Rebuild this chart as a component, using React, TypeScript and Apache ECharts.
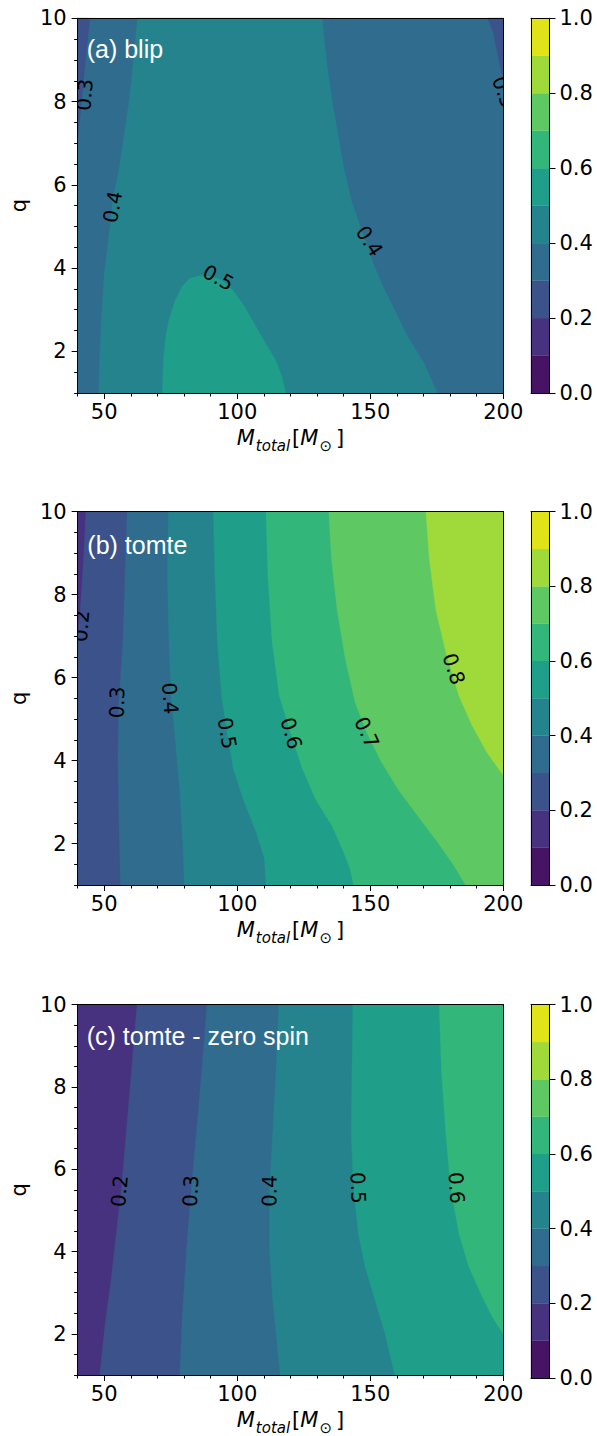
import React, { useEffect, useRef } from 'react';
import * as echarts from 'echarts';

// ---------- axis ranges & ticks ----------
const X_MIN = 40, X_MAX = 200, Q_MIN = 1, Q_MAX = 10;
const xMajorTicks = [50, 100, 150, 200];
const xMinorTicks = [40, 60, 70, 80, 90, 110, 120, 130, 140, 160, 170, 180, 190];
const qMajorTicks = [2, 4, 6, 8, 10];
const qMinorTicks = [1, 1.5, 2.5, 3, 3.5, 4.5, 5, 5.5, 6.5, 7, 7.5, 8.5, 9, 9.5];
const cbarTicks = [0, 0.2, 0.4, 0.6, 0.8, 1.0];
const levels = [0, 0.1, 0.2, 0.3, 0.4, 0.5, 0.6, 0.7, 0.8, 0.9, 1.0];
const bandColors = ['#471365', '#46327e', '#3b528b', '#2f6c8e', '#25838e', '#1f9e89', '#32b67a', '#5ec962', '#9fda3a', '#dfe318'];
const panelTitles = ['(a) blip', '(b) tomte', '(c) tomte - zero spin'];

// ---------- panel (a) blip : contour lines [M_total, q] ----------
const blipLine03Left = [[44.6, 10], [43.6, 9.4], [42.7, 8.84], [41.5, 8.0], [40.2, 7.24], [40, 7.1]];
const blipLine03Right = [[194.1, 10], [196.3, 9.65], [198.8, 8.84], [200, 8.56]];
const blipLine04Left = [[62.5, 10], [61.0, 9.0], [59.4, 8.04], [57.5, 7.2], [55.7, 6.43], [53.2, 5.63], [52.4, 5.15], [51.2, 4.5], [50.1, 3.95], [48.9, 2.75], [48.3, 1.9], [47.9, 1]];
const blipLine04Right = [[131.9, 10], [133.5, 9.0], [135.6, 8.04], [140.0, 6.43], [143.0, 5.6], [145.5, 5.15], [147.0, 4.85], [149.2, 4.5], [151.1, 4.11], [154.5, 3.6], [157.9, 3.16], [164.1, 2.35], [170.3, 1.71], [175.2, 1]];
const blipLine05 = [[71.8, 1], [72.2, 1.8], [73.2, 2.4], [74.3, 2.75], [76.5, 3.2], [79.2, 3.55], [82, 3.75], [86.1, 3.82], [90, 3.8], [94, 3.72], [98.4, 3.47], [102.5, 3.1], [107.1, 2.59], [111, 2.15], [114.5, 1.79], [117, 1.35], [118.3, 1]];
const blipLabels = [
  { text: '0.3', x: 42.6, q: 8.16, rot: 85 },
  { text: '0.4', x: 53.2, q: 5.47, rot: 80 },
  { text: '0.5', x: 92.9, q: 3.77, rot: -29 },
  { text: '0.4', x: 149.7, q: 4.65, rot: -57 },
  { text: '0.3', x: 200.2, q: 8.23, rot: -70 },
];

// ---------- panel (b) tomte ----------
const tomteLine02 = [[43.0, 10], [42.1, 8.86], [40.9, 7.65], [40, 7.0]];
const tomteLine03 = [[58.6, 10], [57.8, 8.46], [57.0, 6.85], [55.5, 5.42], [55.1, 4.04], [55.4, 2.83], [55.7, 2.03], [56.1, 1]];
const tomteLine04 = [[74.1, 10], [73.7, 8.46], [74.3, 6.85], [75.2, 5.52], [76.8, 4.44], [78.4, 3.23], [79.5, 2.03], [80.1, 1]];
const tomteLine05 = [[91.0, 10], [91.6, 8.46], [92.5, 6.85], [94.1, 5.56], [96.2, 4.66], [98.5, 3.8], [102.2, 3.07], [107.1, 2.27], [110.2, 1.63], [110.8, 1]];
const tomteLine06 = [[110.8, 10], [111.5, 8.46], [113.1, 6.85], [115.8, 5.56], [120.1, 4.66], [124.5, 3.8], [129.4, 3.07], [135.6, 2.43], [140.0, 1.79], [142.4, 1.39], [143.7, 1]];
const tomteLine07 = [[134.4, 10], [135.4, 8.86], [137.5, 7.65], [140.6, 6.45], [144.3, 5.4], [148.6, 4.68], [154.2, 3.96], [160.4, 3.31], [167.8, 2.67], [175.3, 2.03], [181.4, 1.47], [185.8, 1]];
const tomteLine08 = [[170.9, 10], [172.2, 8.86], [174.6, 7.65], [178.4, 6.61], [183.3, 5.56], [188.3, 4.84], [193.8, 4.2], [200, 3.64]];
const tomteLabels = [
  { text: '0.2', x: 41.3, q: 7.24, rot: 85 },
  { text: '0.3', x: 54.8, q: 5.4, rot: 88 },
  { text: '0.4', x: 74.8, q: 5.5, rot: -86 },
  { text: '0.5', x: 96.2, q: 4.66, rot: -80 },
  { text: '0.6', x: 120.3, q: 4.66, rot: -74 },
  { text: '0.7', x: 148.7, q: 4.68, rot: -65 },
  { text: '0.8', x: 181.4, q: 6.21, rot: -72 },
];

// ---------- panel (c) tomte - zero spin ----------
const zeroLine02 = [[62.3, 10], [60.3, 8.46], [58.2, 6.85], [56.3, 5.44], [54.5, 4.44], [52.4, 3.23], [50.2, 2.19], [48.3, 1]];
const zeroLine03 = [[88.6, 10], [86.7, 8.46], [84.6, 6.85], [82.6, 5.44], [80.9, 4.04], [79.3, 2.43], [78.4, 1]];
const zeroLine04 = [[115.6, 10], [114.6, 8.46], [113.3, 6.85], [112.1, 5.44], [112.1, 4.04], [113.3, 2.83], [114.8, 1.87], [116.1, 1]];
const zeroLine05 = [[143.4, 10], [143.1, 8.46], [142.8, 6.85], [143.7, 5.56], [145.5, 4.44], [148.0, 3.64], [151.7, 2.83], [155.4, 2.03], [159.2, 1]];
const zeroLine06 = [[175.9, 10], [176.7, 8.46], [178.4, 6.85], [180.2, 5.56], [183.3, 4.44], [187.0, 3.64], [191.4, 2.99], [195.7, 2.43], [200, 1.99]];
const zeroLabels = [
  { text: '0.2', x: 55.7, q: 5.47, rot: 85 },
  { text: '0.3', x: 82.5, q: 5.47, rot: 87 },
  { text: '0.4', x: 112.1, q: 5.47, rot: 89 },
  { text: '0.5', x: 145.4, q: 5.55, rot: -88 },
  { text: '0.6', x: 182.4, q: 5.55, rot: -86 },
];

// ---------- region builders ----------
const fullRect = () => [[X_MIN, Q_MAX], [X_MAX, Q_MAX], [X_MAX, Q_MIN], [X_MIN, Q_MIN]];
const rightOf = (line: number[][]) => {
  const last = line[line.length - 1];
  return last[0] >= X_MAX ? [...line, [X_MAX, Q_MAX]] : [...line, [X_MAX, Q_MIN], [X_MAX, Q_MAX]];
};
const leftOf = (line: number[][]) => [[X_MIN, Q_MAX], ...line];

const panels = [
  {
    regions: [
      { band: 3, pts: fullRect() },
      { band: 2, pts: leftOf(blipLine03Left) },
      { band: 2, pts: rightOf(blipLine03Right) },
      { band: 4, pts: [...blipLine04Left, ...[...blipLine04Right].reverse()] },
      { band: 5, pts: blipLine05 },
    ],
    labels: blipLabels,
  },
  {
    regions: [
      { band: 2, pts: fullRect() },
      { band: 1, pts: leftOf(tomteLine02) },
      { band: 3, pts: rightOf(tomteLine03) },
      { band: 4, pts: rightOf(tomteLine04) },
      { band: 5, pts: rightOf(tomteLine05) },
      { band: 6, pts: rightOf(tomteLine06) },
      { band: 7, pts: rightOf(tomteLine07) },
      { band: 8, pts: rightOf(tomteLine08) },
    ],
    labels: tomteLabels,
  },
  {
    regions: [
      { band: 1, pts: fullRect() },
      { band: 2, pts: rightOf(zeroLine02) },
      { band: 3, pts: rightOf(zeroLine03) },
      { band: 4, pts: rightOf(zeroLine04) },
      { band: 5, pts: rightOf(zeroLine05) },
      { band: 6, pts: rightOf(zeroLine06) },
    ],
    labels: zeroLabels,
  },
];

// ---------- layout ----------
const PLOT_LEFT = 72.7, PLOT_W = 430.6;
const PANEL_TOPS = [18.3, 511.7, 1004.7];
const PANEL_HS = [374.7, 373.3, 373.3];
const CBAR_LEFT = 531, CBAR_W = 18.5;
const TITLE_POS = [[86.7, 48.5], [87.3, 544.5], [86.7, 1035.5]];

const FONT = 'DejaVu Sans';
const lineStyle = { color: '#000', width: 1 };

function buildOption() {
  const grid: any[] = [], xAxis: any[] = [], yAxis: any[] = [], series: any[] = [], graphic: any[] = [];
  const lineOnly = (gridIndex: number, pos: string, min: number, max: number) => ({
    type: 'value', gridIndex, position: pos, min, max, z: 10,
    axisLine: { show: true, onZero: false, lineStyle },
    axisTick: { show: false }, axisLabel: { show: false }, splitLine: { show: false },
  });

  panels.forEach((panel, i) => {
    const top = PANEL_TOPS[i], h = PANEL_HS[i];
    const g = grid.length;
    grid.push({ left: PLOT_LEFT, top, width: PLOT_W, height: h });
    grid.push({ left: CBAR_LEFT, top, width: CBAR_W, height: h });

    const xMain = xAxis.length;
    xAxis.push({
      type: 'value', gridIndex: g, position: 'bottom', min: X_MIN, max: X_MAX, z: 10,
      axisLine: { show: true, onZero: false, lineStyle },
      axisTick: { show: true, length: 6, customValues: xMajorTicks, lineStyle },
      axisLabel: { show: true, customValues: xMajorTicks, margin: 8, fontFamily: FONT, fontSize: 21, color: '#000' },
      splitLine: { show: false },
      name: '{i|M}{s|total}{r|[}{i|M}{o|⊙}{r|]}',
      nameLocation: 'middle', nameGap: 30,
      nameTextStyle: {
        fontFamily: FONT, color: '#000',
        rich: {
          i: { fontFamily: FONT, fontStyle: 'italic', fontSize: 21, lineHeight: 30, color: '#000' },
          s: { fontFamily: FONT, fontStyle: 'italic', fontSize: 15, lineHeight: 15, verticalAlign: 'bottom', color: '#000', padding: [0, 2, 0, 1] },
          r: { fontFamily: FONT, fontSize: 21, lineHeight: 30, color: '#000' },
          o: { fontFamily: FONT, fontSize: 15, lineHeight: 15, verticalAlign: 'bottom', color: '#000', padding: [0, 4, 0, 1] },
        },
      },
    });
    xAxis.push({
      type: 'value', gridIndex: g, position: 'bottom', min: X_MIN, max: X_MAX, z: 10,
      axisLine: { show: false },
      axisTick: { show: true, length: 3.5, customValues: xMinorTicks, lineStyle },
      axisLabel: { show: false }, splitLine: { show: false },
    });
    xAxis.push(lineOnly(g, 'top', X_MIN, X_MAX));

    const yMain = yAxis.length;
    yAxis.push({
      type: 'value', gridIndex: g, position: 'left', min: Q_MIN, max: Q_MAX, z: 10,
      axisLine: { show: true, onZero: false, lineStyle },
      axisTick: { show: true, length: 6, customValues: qMajorTicks, lineStyle },
      axisLabel: { show: true, customValues: qMajorTicks, margin: 11, fontFamily: FONT, fontSize: 21, color: '#000' },
      splitLine: { show: false },
      name: 'q', nameLocation: 'middle', nameGap: 44, nameRotate: 90,
      nameTextStyle: { fontFamily: FONT, fontSize: 21, color: '#000' },
    });
    yAxis.push({
      type: 'value', gridIndex: g, position: 'left', min: Q_MIN, max: Q_MAX, z: 10,
      axisLine: { show: false },
      axisTick: { show: true, length: 3.5, customValues: qMinorTicks, lineStyle },
      axisLabel: { show: false }, splitLine: { show: false },
    });
    yAxis.push(lineOnly(g, 'right', Q_MIN, Q_MAX));

    // colorbar axes
    const cx = xAxis.length;
    xAxis.push(lineOnly(g + 1, 'bottom', 0, 1));
    xAxis.push(lineOnly(g + 1, 'top', 0, 1));
    const cy = yAxis.length;
    yAxis.push({
      type: 'value', gridIndex: g + 1, position: 'right', min: 0, max: 1, z: 10,
      axisLine: { show: true, onZero: false, lineStyle },
      axisTick: { show: true, length: 6, customValues: cbarTicks, lineStyle },
      axisLabel: {
        show: true, customValues: cbarTicks, margin: 10, fontFamily: FONT, fontSize: 21, color: '#000',
        formatter: (v: number) => v.toFixed(1),
      },
      splitLine: { show: false },
    });
    yAxis.push(lineOnly(g + 1, 'left', 0, 1));

    const regions = panel.regions;
    series.push({
      type: 'custom', xAxisIndex: xMain, yAxisIndex: yMain, silent: true, z: 2,
      data: regions.map((r, k) => [r.pts[0][0], r.pts[0][1], k]),
      renderItem: (params: any, api: any) => {
        const r = regions[params.dataIndex];
        return {
          type: 'polygon',
          shape: { points: r.pts.map((p) => api.coord(p)) },
          style: { fill: bandColors[r.band], stroke: bandColors[r.band], lineWidth: 0.3 },
        };
      },
    });
    const labels = panel.labels;
    series.push({
      type: 'custom', xAxisIndex: xMain, yAxisIndex: yMain, silent: true, z: 3, clip: true,
      data: labels.map((l) => [l.x, l.q]),
      renderItem: (params: any, api: any) => {
        const l = labels[params.dataIndex];
        const p = api.coord([l.x, l.q]);
        return {
          type: 'text', x: p[0], y: p[1], rotation: (l.rot * Math.PI) / 180,
          style: { text: l.text, fill: '#000', fontSize: 20, fontFamily: FONT, align: 'center', verticalAlign: 'middle' },
        };
      },
    });
    series.push({
      type: 'custom', xAxisIndex: cx, yAxisIndex: cy, silent: true, z: 2,
      data: bandColors.map((_, k) => [0, levels[k], levels[k + 1]]),
      renderItem: (params: any, api: any) => {
        const k = params.dataIndex;
        const a = api.coord([0, levels[k]]);
        const b = api.coord([1, levels[k + 1]]);
        return {
          type: 'rect',
          shape: { x: a[0], y: b[1], width: b[0] - a[0], height: a[1] - b[1] },
          style: { fill: bandColors[k], stroke: bandColors[k], lineWidth: 0.3 },
        };
      },
    });

    graphic.push({
      type: 'text', x: TITLE_POS[i][0], y: TITLE_POS[i][1], z: 20, silent: true,
      style: { text: panelTitles[i], fill: '#ffffff', fontSize: 25, fontFamily: 'Liberation Sans', verticalAlign: 'middle', align: 'left' },
    });
  });

  return { animation: false, backgroundColor: '#ffffff', grid, xAxis, yAxis, series, graphic };
}

export default function App() {
  const ref = useRef<HTMLDivElement>(null);
  useEffect(() => {
    document.body.style.margin = '0';
    const chart = echarts.init(ref.current!, undefined, { renderer: 'svg' });
    chart.setOption(buildOption() as any);
    return () => chart.dispose();
  }, []);
  return <div ref={ref} style={{ width: 597, height: 1436 }} />;
}
